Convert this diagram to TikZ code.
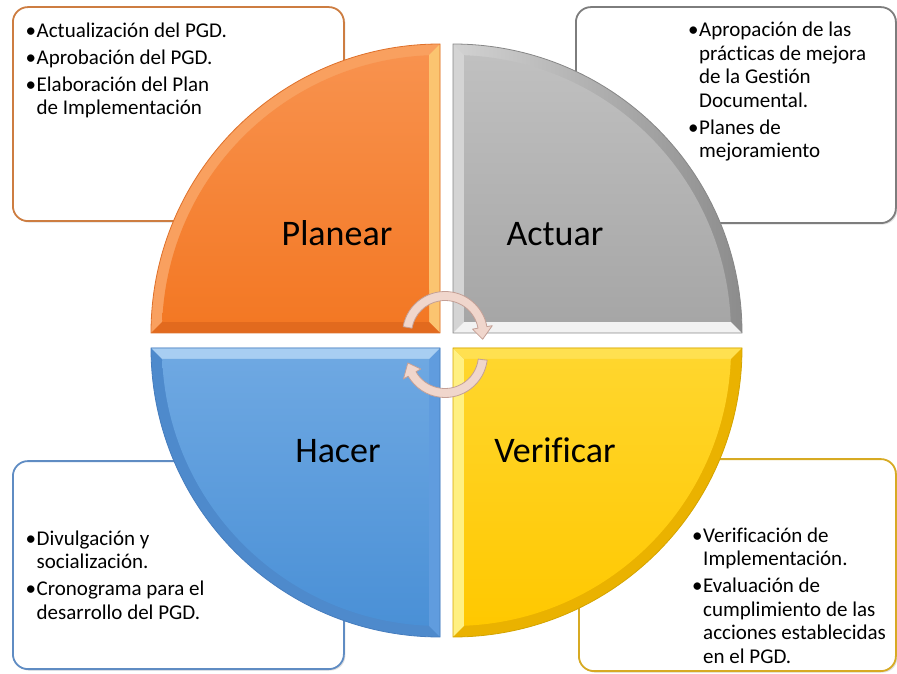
\documentclass[tikz,border=0pt]{standalone}
\usepackage{fontspec}
\setmainfont{Carlito}[Ligatures=NoCommon]
\usetikzlibrary{shadows}
\definecolor{bxorange}{RGB}{205,125,65}
\definecolor{bxgray}{RGB}{125,125,125}
\definecolor{bxblue}{RGB}{95,140,195}
\definecolor{bxgold}{RGB}{215,170,35}
\definecolor{arrowfill}{RGB}{240,214,204}
\definecolor{arrowline}{RGB}{196,160,150}
\newcommand{\bitem}[1]{\hangindent=11pt\hangafter=1\noindent\makebox[11pt][l]{\textbullet}#1\par}
\newcommand{\boxtext}[1]{\begin{minipage}[t]{240pt}\fontsize{21}{23.5}\selectfont\setlength{\parskip}{3.5pt}#1\end{minipage}}
\begin{document}
\begin{tikzpicture}[x=1pt,y=1pt,
  infobox/.style={draw, line width=1.8pt, fill=white, rounded corners=15pt, anchor=south west, inner sep=0pt,
    drop shadow={shadow xshift=1.5pt, shadow yshift=-1.5pt, opacity=0.25}},
  btext/.style={anchor=base west, inner sep=0pt, text=black},
  lbl/.style={anchor=base, inner sep=0pt, font=\fontsize{36}{40}\selectfont, text=black},
  arrowshape/.style={fill=arrowfill, draw=arrowline, line width=0.8pt, line join=round}]
\useasboundingbox (0,0) rectangle (897,673);

% ---------- information boxes ----------
\node[infobox, draw=bxorange, minimum width=331pt, minimum height=214pt] (tlbox) at (12,451) {};
\node[infobox, draw=bxgray, minimum width=320pt, minimum height=216pt] (trbox) at (575,449) {};
\node[infobox, draw=bxblue, minimum width=331pt, minimum height=208pt] (blbox) at (12,3) {};
\node[infobox, draw=bxgold, minimum width=317pt, minimum height=212pt] (brbox) at (578,1) {};

\node[btext] (tltext) at (25.5,635.5) {\boxtext{\bitem{Actualización del PGD.}\bitem{Aprobación del PGD.}\bitem{Elaboración del Plan\\ de Implementación}}};
\node[btext] (trtext) at (688,636) {\boxtext{\bitem{Apropación de las\\ prácticas de mejora\\ de la Gestión\\ Documental.}\bitem{Planes de\\ mejoramiento}}};
\node[btext] (bltext) at (25.5,128) {\boxtext{\bitem{Divulgación y\\ socialización.}\bitem{Cronograma para el\\ desarrollo del PGD.}}};
\node[btext] (brtext) at (692,131) {\boxtext{\bitem{Verificación de\\ Implementación.}\bitem{Evaluación de\\ cumplimiento de las\\ acciones establecidas\\ en el PGD.}}};

% ---------- Planear (orange) ----------
\begin{scope}[shift={(440,340)}]
  \fill[color={rgb,255:red,249;green,160;blue,95}] (0,0) -- (-289,0) arc (180:90:289) -- cycle;
  \fill[color={rgb,255:red,251;green,196;blue,112}] (0,0) -- (0,289) -- (-11,277.8) -- (-11,11) -- cycle;
  \fill[color={rgb,255:red,226;green,106;blue,30}] (0,0) -- (-289,0) -- (-277.8,11) -- (-11,11) -- cycle;
  \path[top color={rgb,255:red,248;green,146;blue,78}, bottom color={rgb,255:red,243;green,120;blue,36}]
    (-11,11) -- (-277.8,11) arc (177.73:92.27:278) -- cycle;
  \draw[color={rgb,255:red,222;green,112;blue,42}, line width=0.8pt] (0,0) -- (-289,0) arc (180:90:289) -- cycle;
\end{scope}

% ---------- Actuar (gray) ----------
\begin{scope}[shift={(453,340)}]
  \path[left color={rgb,255:red,210;green,210;blue,210}, right color={rgb,255:red,140;green,140;blue,140}]
    (0,0) -- (0,289) arc (90:0:289) -- cycle;
  \fill[color={rgb,255:red,212;green,212;blue,212}] (0,0) -- (0,289) -- (11,277.8) -- (11,11) -- cycle;
  \fill[color={rgb,255:red,242;green,242;blue,242}] (0,0) -- (289,0) -- (277.8,11) -- (11,11) -- cycle;
  \path[top color={rgb,255:red,192;green,192;blue,192}, bottom color={rgb,255:red,166;green,166;blue,166}]
    (11,11) -- (11,277.8) arc (87.73:2.27:278) -- cycle;
  \draw[color={rgb,255:red,135;green,135;blue,135}, line width=0.8pt] (0,0) -- (0,289) arc (90:0:289) -- cycle;
\end{scope}

% ---------- Hacer (blue) ----------
\begin{scope}[shift={(440,325)}]
  \fill[color={rgb,255:red,78;green,138;blue,204}] (0,0) -- (-289,0) arc (180:270:289) -- cycle;
  \fill[color={rgb,255:red,96;green,156;blue,222}] (0,0) -- (0,-289) -- (-11,-277.8) -- (-11,-11) -- cycle;
  \fill[color={rgb,255:red,168;green,206;blue,242}] (0,0) -- (-289,0) -- (-277.8,-11) -- (-11,-11) -- cycle;
  \path[top color={rgb,255:red,110;green,168;blue,226}, bottom color={rgb,255:red,74;green,144;blue,214}]
    (-11,-11) -- (-277.8,-11) arc (182.27:267.73:278) -- cycle;
  \draw[color={rgb,255:red,70;green,125;blue,190}, line width=0.8pt] (0,0) -- (-289,0) arc (180:270:289) -- cycle;
\end{scope}

% ---------- Verificar (yellow) ----------
\begin{scope}[shift={(453,325)}]
  \fill[color={rgb,255:red,234;green,178;blue,0}] (0,0) -- (289,0) arc (0:-90:289) -- cycle;
  \fill[color={rgb,255:red,255;green,240;blue,130}] (0,0) -- (0,-289) -- (11,-277.8) -- (11,-11) -- cycle;
  \fill[color={rgb,255:red,255;green,224;blue,80}] (0,0) -- (289,0) -- (277.8,-11) -- (11,-11) -- cycle;
  \path[top color={rgb,255:red,255;green,214;blue,45}, bottom color={rgb,255:red,255;green,200;blue,0}]
    (11,-11) -- (277.8,-11) arc (-2.27:-87.73:278) -- cycle;
  \draw[color={rgb,255:red,212;green,164;blue,0}, line width=0.8pt] (0,0) -- (289,0) arc (0:-90:289) -- cycle;
\end{scope}

% ---------- cycle arrows ----------
\begin{scope}[shift={(445,339)}]
  \path[arrowshape] (170:42.5) arc (170:10:42.5) -- (10:48) -- (-8:38) -- (10:28) -- (10:33.5) arc (10:170:33.5) -- cycle;
\end{scope}
\begin{scope}[shift={(445,318)}]
  \path[arrowshape] (-7:42.5) arc (-7:-150:42.5) -- (-150:48) -- (-168:38) -- (-150:28) -- (-150:33.5) arc (-150:-7:33.5) -- cycle;
\end{scope}

% ---------- labels ----------
\node[lbl] (planear) at (337,427.5) {Planear};
\node[lbl] (actuar) at (555,427.5) {Actuar};
\node[lbl] (hacer) at (338,211) {Hacer};
\node[lbl] (verificar) at (555,211) {Verificar};
\end{tikzpicture}
\end{document}
